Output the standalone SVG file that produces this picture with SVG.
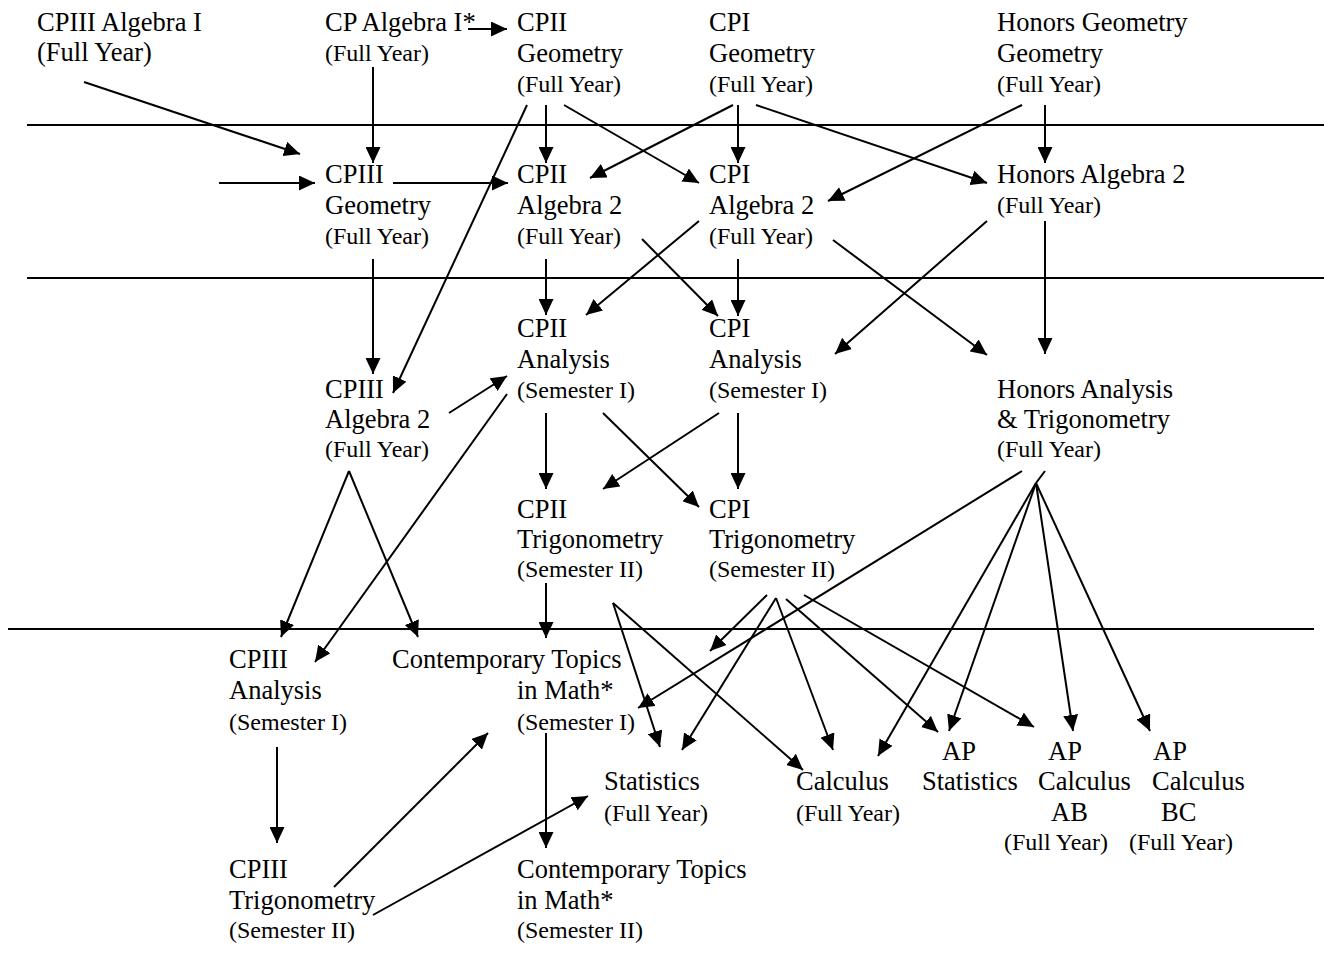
<svg xmlns="http://www.w3.org/2000/svg" width="1324" height="975" viewBox="0 0 1324 975">
<style>
text{font-family:"Liberation Serif","Times New Roman",serif;fill:#000}
.m{font-size:26.5px}
.s{font-size:24px}
.sep{stroke:#000;stroke-width:2}
.c line{stroke:#000;stroke-width:2;marker-end:url(#ah)}
.c line.n{marker-end:none}
</style>
<defs>
<marker id="ah" markerUnits="userSpaceOnUse" markerWidth="17" markerHeight="15" viewBox="0 0 17 15" refX="16" refY="7.5" orient="auto">
<path d="M0,0 L16,7.5 L0,15 Z" fill="#000"/>
</marker>
</defs>
<rect width="1324" height="975" fill="#fff"/>
<g id="separators">
<line class="sep" x1="27" y1="125" x2="1324" y2="125"/>
<line class="sep" x1="27" y1="278" x2="1324" y2="278"/>
<line class="sep" x1="8" y1="629" x2="1314" y2="629"/>
</g>
<g id="cpiii-alg1"><text class="m" x="37" y="31">CPIII Algebra I</text><text class="m" x="37" y="61">(Full Year)</text></g>
<g id="cp-alg1"><text class="m" x="325" y="31">CP Algebra I*</text><text class="s" x="325" y="61">(Full Year)</text></g>
<g id="cpii-geo"><text class="m" x="517" y="31">CPII</text><text class="m" x="517" y="62">Geometry</text><text class="s" x="517" y="92">(Full Year)</text></g>
<g id="cpi-geo"><text class="m" x="709" y="31">CPI</text><text class="m" x="709" y="62">Geometry</text><text class="s" x="709" y="92">(Full Year)</text></g>
<g id="hon-geo"><text class="m" x="997" y="31">Honors Geometry</text><text class="m" x="997" y="62">Geometry</text><text class="s" x="997" y="92">(Full Year)</text></g>
<g id="cpiii-geo"><text class="m" x="325" y="183">CPIII</text><text class="m" x="325" y="214">Geometry</text><text class="s" x="325" y="244">(Full Year)</text></g>
<g id="cpii-alg2"><text class="m" x="517" y="183">CPII</text><text class="m" x="517" y="214">Algebra 2</text><text class="s" x="517" y="244">(Full Year)</text></g>
<g id="cpi-alg2"><text class="m" x="709" y="183">CPI</text><text class="m" x="709" y="214">Algebra 2</text><text class="s" x="709" y="244">(Full Year)</text></g>
<g id="hon-alg2"><text class="m" x="997" y="183">Honors Algebra 2</text><text class="s" x="997" y="213">(Full Year)</text></g>
<g id="cpii-ana"><text class="m" x="517" y="337">CPII</text><text class="m" x="517" y="368">Analysis</text><text class="s" x="517" y="398">(Semester I)</text></g>
<g id="cpi-ana"><text class="m" x="709" y="337">CPI</text><text class="m" x="709" y="368">Analysis</text><text class="s" x="709" y="398">(Semester I)</text></g>
<g id="cpiii-alg2"><text class="m" x="325" y="398">CPIII</text><text class="m" x="325" y="428">Algebra 2</text><text class="s" x="325" y="457">(Full Year)</text></g>
<g id="hon-ana"><text class="m" x="997" y="398">Honors Analysis</text><text class="m" x="997" y="428">&amp; Trigonometry</text><text class="s" x="997" y="457">(Full Year)</text></g>
<g id="cpii-trig"><text class="m" x="517" y="518">CPII</text><text class="m" x="517" y="548">Trigonometry</text><text class="s" x="517" y="577">(Semester II)</text></g>
<g id="cpi-trig"><text class="m" x="709" y="518">CPI</text><text class="m" x="709" y="548">Trigonometry</text><text class="s" x="709" y="577">(Semester II)</text></g>
<g id="cpiii-ana"><text class="m" x="229" y="668">CPIII</text><text class="m" x="229" y="699">Analysis</text><text class="s" x="229" y="730">(Semester I)</text></g>
<g id="ct1"><text class="m" x="392" y="668">Contemporary Topics</text><text class="m" x="517" y="699">in Math*</text><text class="s" x="517" y="730">(Semester I)</text></g>
<g id="stat"><text class="m" x="604" y="790">Statistics</text><text class="s" x="604" y="821">(Full Year)</text></g>
<g id="calc"><text class="m" x="796" y="790">Calculus</text><text class="s" x="796" y="821">(Full Year)</text></g>
<g id="ap-stat"><text class="m" x="942" y="760">AP</text><text class="m" x="922" y="790">Statistics</text></g>
<g id="ap-ab"><text class="m" x="1048" y="760">AP</text><text class="m" x="1038" y="790">Calculus</text><text class="m" x="1051" y="821">AB</text><text class="s" x="1004" y="850">(Full Year)</text></g>
<g id="ap-bc"><text class="m" x="1153" y="760">AP</text><text class="m" x="1152" y="790">Calculus</text><text class="m" x="1161" y="821">BC</text><text class="s" x="1129" y="850">(Full Year)</text></g>
<g id="cpiii-trig"><text class="m" x="229" y="878">CPIII</text><text class="m" x="229" y="909">Trigonometry</text><text class="s" x="229" y="938">(Semester II)</text></g>
<g id="ct2"><text class="m" x="517" y="878">Contemporary Topics</text><text class="m" x="517" y="909">in Math*</text><text class="s" x="517" y="938">(Semester II)</text></g>
<g id="connectors" class="c">
<line x1="84" y1="82" x2="300" y2="154"/>
<line x1="373" y1="67" x2="373" y2="163"/>
<line x1="219" y1="183" x2="315" y2="183"/>
<line x1="393" y1="183" x2="508" y2="183"/>
<line x1="468" y1="29" x2="507" y2="29"/>
<line x1="546" y1="105" x2="546" y2="163"/>
<line x1="564" y1="105" x2="699" y2="183"/>
<line x1="733" y1="105" x2="590" y2="178"/>
<line x1="738" y1="105" x2="738" y2="163"/>
<line x1="756" y1="105" x2="987" y2="183"/>
<line x1="1022" y1="105" x2="828" y2="201"/>
<line x1="1045" y1="105" x2="1045" y2="163"/>
<line x1="527" y1="105" x2="393" y2="393"/>
<line x1="373" y1="259" x2="373" y2="374"/>
<line x1="546" y1="259" x2="546" y2="315"/>
<line x1="642" y1="239" x2="718" y2="316"/>
<line x1="699" y1="221" x2="586" y2="315"/>
<line x1="738" y1="259" x2="738" y2="316"/>
<line x1="833" y1="240" x2="987" y2="355"/>
<line x1="987" y1="221" x2="835" y2="354"/>
<line x1="1045" y1="221" x2="1045" y2="354"/>
<line x1="449" y1="413" x2="507" y2="376"/>
<line x1="507" y1="394" x2="315" y2="662"/>
<line x1="546" y1="413" x2="546" y2="489"/>
<line x1="603" y1="413" x2="699" y2="507"/>
<line x1="719" y1="413" x2="603" y2="489"/>
<line x1="738" y1="413" x2="738" y2="489"/>
<line x1="349" y1="471" x2="281" y2="637"/>
<line x1="349" y1="471" x2="418" y2="637"/>
<line x1="546" y1="583" x2="546" y2="638"/>
<line x1="613" y1="603" x2="660" y2="747"/>
<line x1="613" y1="603" x2="803" y2="770"/>
<line x1="767" y1="595" x2="710" y2="651"/>
<line x1="1022" y1="471" x2="638" y2="708"/>
<line x1="776" y1="598" x2="682" y2="750"/>
<line x1="776" y1="598" x2="833" y2="750"/>
<line x1="786" y1="599" x2="938" y2="732"/>
<line x1="804" y1="595" x2="1034" y2="727"/>
<line class="n" x1="1045" y1="471" x2="1036" y2="483"/>
<line x1="1036" y1="483" x2="878" y2="756"/>
<line x1="1036" y1="483" x2="949" y2="731"/>
<line x1="1036" y1="483" x2="1073" y2="731"/>
<line x1="1036" y1="483" x2="1150" y2="731"/>
<line x1="277" y1="747" x2="277" y2="843"/>
<line x1="334" y1="887" x2="488" y2="733"/>
<line x1="373" y1="915" x2="588" y2="796"/>
<line x1="546" y1="733" x2="546" y2="848"/>
</g>
</svg>
